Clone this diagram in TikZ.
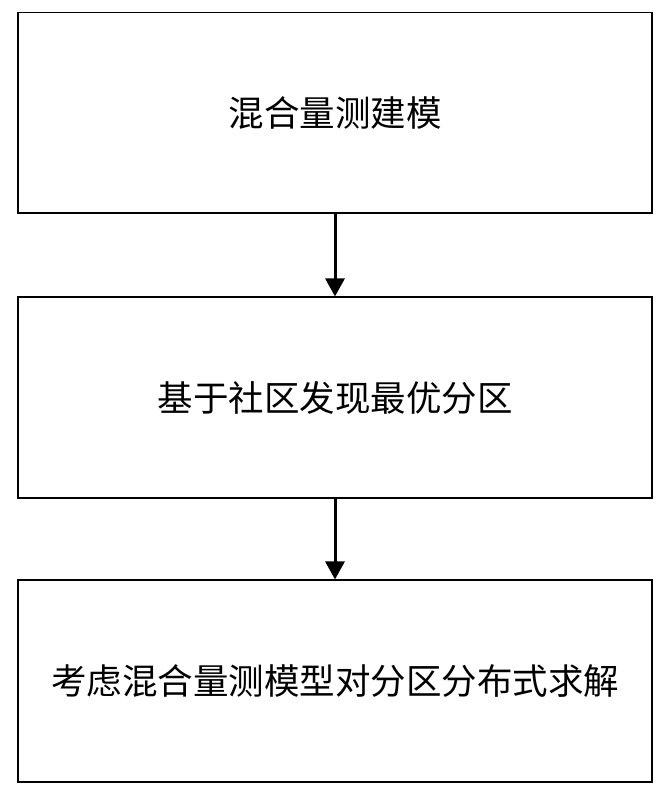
\documentclass[tikz,border=0pt]{standalone}
\usepackage{fontspec}
\newfontfamily\cjk{Noto Sans CJK SC}
\usetikzlibrary{arrows.meta}
\begin{document}
\begin{tikzpicture}[x=1pt,y=1pt,
  stepbox/.style={draw=black,line width=1.1pt,minimum width=634pt,inner sep=0pt,font=\cjk\fontsize{35.5}{40}\selectfont},
  flow/.style={line width=3pt,-{Triangle[width=19pt,length=18pt]}}]
\useasboundingbox[fill=white] (0,0) rectangle (667,-797);
\node[stepbox,minimum height=200.5pt] (a) at (335,-112.75) {混合量测建模};
\node[stepbox,minimum height=201pt] (b) at (335,-397.5) {基于社区发现最优分区};
\node[stepbox,minimum height=202pt] (c) at (335,-681) {考虑混合量测模型对分区分布式求解};
\draw[flow] (a.south) -- (b.north);
\draw[flow] (b.south) -- (c.north);
\end{tikzpicture}
\end{document}
